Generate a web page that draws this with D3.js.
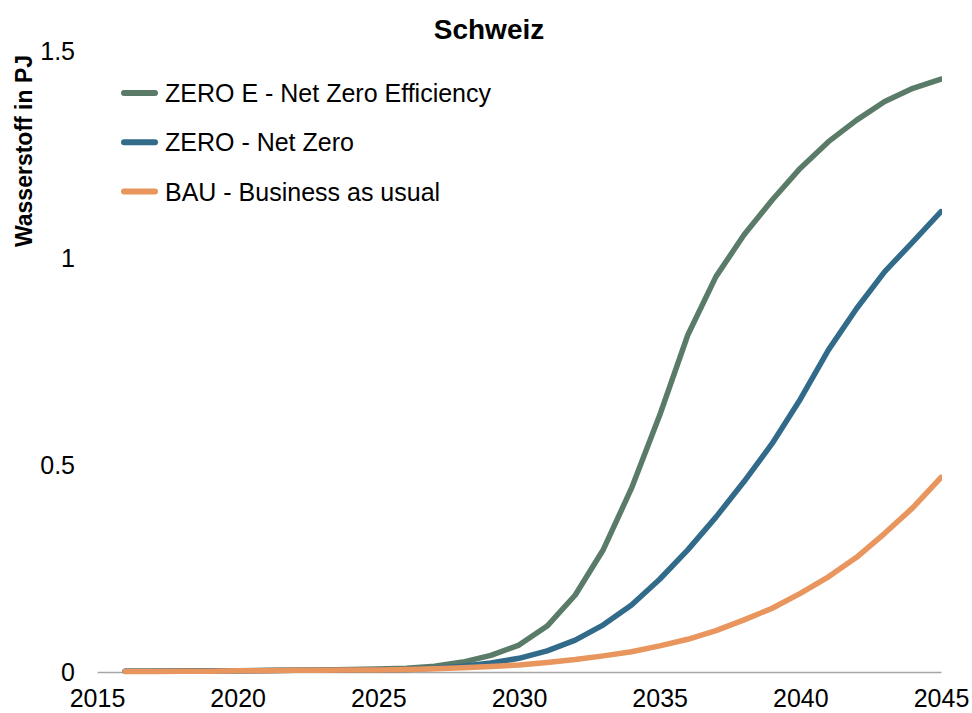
<!DOCTYPE html>
<html>
<head>
<meta charset="utf-8">
<script src="https://cdn.jsdelivr.net/npm/d3@7"></script>
<style>
  html, body { margin: 0; padding: 0; background: #fff; }
  svg { display: block; font-family: "Liberation Sans", Arial, sans-serif; }
</style>
</head>
<body>
<svg id="chart" width="972" height="713"></svg>
<script>
const title = "Schweiz";
const yLabel = "Wasserstoff in PJ";
const years = d3.range(2016, 2046);
const xTicks = [2015, 2020, 2025, 2030, 2035, 2040, 2045];
const yTicks = [0, 0.5, 1, 1.5];
const seriesNames = ["ZERO E - Net Zero Efficiency", "ZERO - Net Zero", "BAU - Business as usual"];
const zeroE = [0.002,0.002,0.003,0.003,0.003,0.004,0.004,0.005,0.006,0.007,
               0.009,0.014,0.024,0.040,0.065,0.111,0.186,0.296,0.444,0.620,
               0.814,0.955,1.056,1.140,1.217,1.281,1.333,1.378,1.410,1.432];
const zero  = [0.002,0.002,0.002,0.003,0.003,0.003,0.004,0.004,0.005,0.005,
               0.006,0.009,0.014,0.022,0.033,0.051,0.077,0.114,0.162,0.224,
               0.295,0.374,0.460,0.552,0.659,0.778,0.878,0.967,1.039,1.112];
const bau   = [0.001,0.001,0.002,0.002,0.003,0.003,0.004,0.004,0.005,0.005,
               0.006,0.008,0.010,0.013,0.017,0.023,0.030,0.039,0.049,0.063,
               0.079,0.100,0.126,0.154,0.190,0.230,0.277,0.335,0.397,0.470];
const colors = ["#5b7b69", "#326b8a", "#e9955e"];

const series = [zeroE, zero, bau].map((vals, i) => ({
  name: seriesNames[i], color: colors[i],
  points: years.map((y, j) => ({ year: y, value: vals[j] }))
}));

const svg = d3.select("#chart");
const x = d3.scaleLinear().domain([2015, 2045]).range([97, 941]);
const y = d3.scaleLinear().domain([0, 1.5]).range([672, 51]);

// title
svg.append("text").attr("x", 489).attr("y", 39).attr("text-anchor", "middle")
  .attr("font-size", 28).attr("font-weight", "bold").attr("fill", "#000").text(title);

// y label
svg.append("text").attr("transform", "translate(32,151) rotate(-90)")
  .attr("text-anchor", "middle").attr("font-size", 23).attr("font-weight", "bold")
  .attr("fill", "#000").text(yLabel);

// y axis (labels only)
const yAxis = d3.axisLeft(y).tickValues(yTicks).tickSize(0).tickPadding(0)
  .tickFormat(d => d3.format("")(d));
const gy = svg.append("g").attr("transform", "translate(75,0)").call(yAxis);
gy.select(".domain").remove();
gy.selectAll("text").attr("font-size", 25).attr("fill", "#000")
  .attr("font-family", "Liberation Sans, Arial, sans-serif");

// x axis
const xAxis = d3.axisBottom(x).tickValues(xTicks).tickSize(0).tickPadding(17)
  .tickFormat(d3.format("d"));
const gx = svg.append("g").attr("transform", "translate(0,672)").call(xAxis);
gx.select(".domain").attr("stroke", "#a6a6a6").attr("stroke-width", 1.5);
gx.selectAll("text").attr("font-size", 25).attr("fill", "#000")
  .attr("font-family", "Liberation Sans, Arial, sans-serif");

// clip
svg.append("clipPath").attr("id", "plotclip").append("rect")
  .attr("x", 90).attr("y", 40).attr("width", 942 - 90).attr("height", 640);

const line = d3.line().x(d => x(d.year)).y(d => y(d.value));
svg.append("g").attr("clip-path", "url(#plotclip)")
  .selectAll("path").data(series).join("path")
  .attr("d", d => line(d.points))
  .attr("fill", "none").attr("stroke", d => d.color)
  .attr("stroke-width", 5.5).attr("stroke-linecap", "round").attr("stroke-linejoin", "round");

// legend
const leg = svg.append("g");
series.forEach((s, i) => {
  const ly = 93 + i * 49.3;
  leg.append("line").attr("x1", 124).attr("x2", 155).attr("y1", ly).attr("y2", ly)
    .attr("stroke", s.color).attr("stroke-width", 6).attr("stroke-linecap", "round");
  leg.append("text").attr("x", 165).attr("y", ly + 9).attr("font-size", 25)
    .attr("fill", "#000").text(s.name);
});
</script>
</body>
</html>
